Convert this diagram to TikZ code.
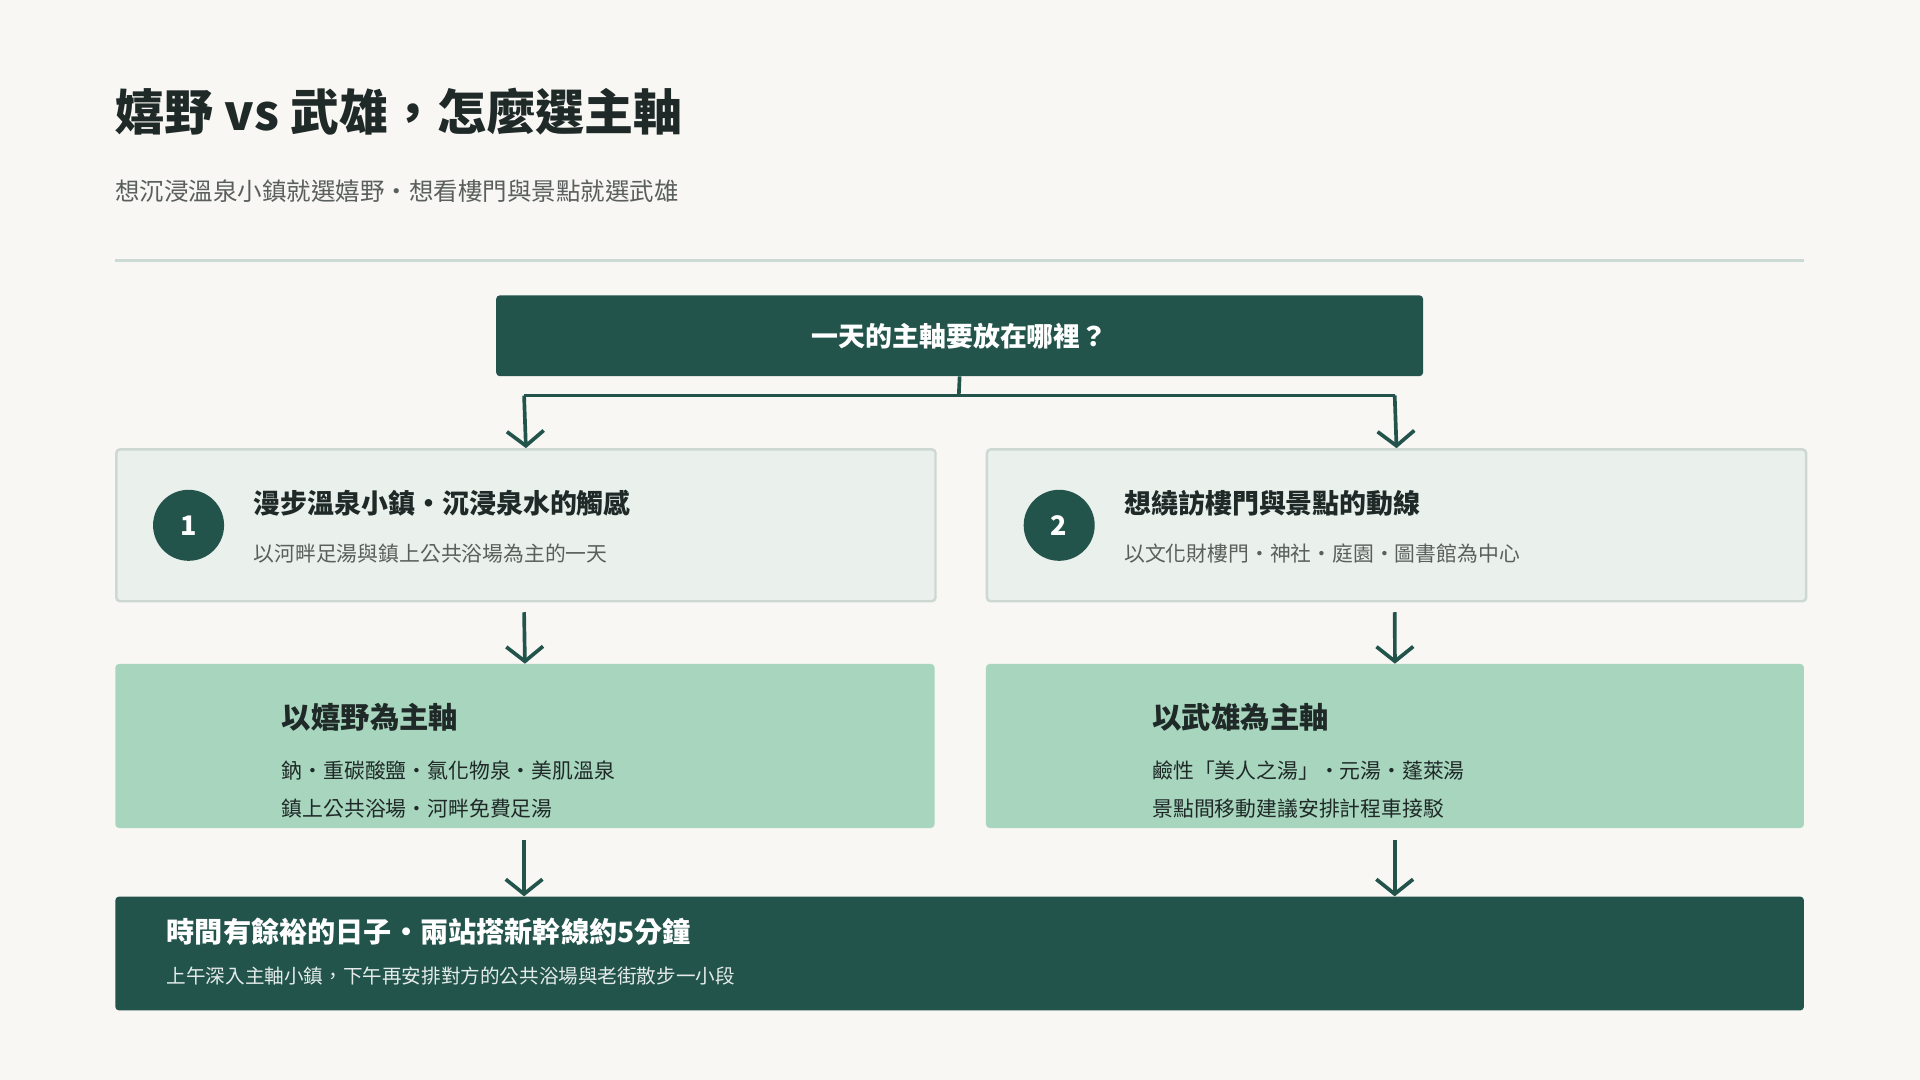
\documentclass[tikz,border=0pt]{standalone}
\usepackage{fontspec}
\setmainfont{Noto Sans CJK TC}
\usetikzlibrary{arrows.meta}
\definecolor{bg}{HTML}{F8F7F3}
\definecolor{dk}{HTML}{22544C}
\definecolor{ink}{HTML}{1F2A28}
\definecolor{gr}{HTML}{5A5F5D}
\definecolor{pale}{HTML}{EAF0EC}
\definecolor{paleb}{HTML}{CDD8D2}
\definecolor{mint}{HTML}{A8D5BE}
\definecolor{rule}{HTML}{CBDAD2}
\tikzset{
 arr/.style={draw=dk,line width=3pt,-{Straight Barb[length=12pt,width=30pt,line width=3pt]}},
 box/.style={anchor=north west,inner sep=0pt,rounded corners=3pt},
 txt/.style={anchor=west,inner sep=0pt},
}
\begin{document}
\begin{tikzpicture}[x=1pt,y=-1pt]
\fill[bg] (0,0) rectangle (1568,882);
\useasboundingbox (0,0) rectangle (1568,882);
\node[txt,font=\bfseries\fontsize{40}{44}\selectfont,text=ink] (title) at (94,91) {嬉野 vs 武雄，怎麼選主軸};
\node[txt,font=\fontsize{20}{24}\selectfont,text=gr] (sub) at (94,156) {想沉浸溫泉小鎮就選嬉野·想看樓門與景點就選武雄};
\draw[rule,line width=2.5pt] (94,213) -- (1473,213);
\node[box,fill=dk,minimum width=757pt,minimum height=66pt] (q) at (405,241) {};
\node[font=\bfseries\fontsize{22}{26}\selectfont,text=white] (qt) at (q.center) {一天的主軸要放在哪裡？};
\coordinate (j) at (783,323);
\coordinate (jl) at (428,323);
\coordinate (jr) at (1139,323);
\draw[dk,line width=3pt] (q.south) -- (j);
\draw[dk,line width=3pt] (jl) -- (jr);
% option boxes
\node[box,fill=pale,draw=paleb,line width=2pt,minimum width=669pt,minimum height=124pt] (o1) at (94,366) {};
\node[box,fill=pale,draw=paleb,line width=2pt,minimum width=669pt,minimum height=124pt] (o2) at (805,366) {};
\draw[arr] (jl) -- (o1.north);
\draw[arr] (jr) -- (o2.north);
\node[circle,fill=dk,minimum size=58pt,inner sep=0pt,text=white,font=\bfseries\fontsize{22}{24}\selectfont] (c1) at (154,429) {1};
\node[circle,fill=dk,minimum size=58pt,inner sep=0pt,text=white,font=\bfseries\fontsize{22}{24}\selectfont] (c2) at (865,429) {2};
\node[txt,font=\bfseries\fontsize{22}{26}\selectfont,text=ink] (o1t) at (207,411) {漫步溫泉小鎮·沉浸泉水的觸感};
\node[txt,font=\fontsize{17}{20}\selectfont,text=gr] (o1s) at (207,452) {以河畔足湯與鎮上公共浴場為主的一天};
\node[txt,font=\bfseries\fontsize{22}{26}\selectfont,text=ink] (o2t) at (918,411) {想繞訪樓門與景點的動線};
\node[txt,font=\fontsize{17}{20}\selectfont,text=gr] (o2s) at (918,452) {以文化財樓門·神社·庭園·圖書館為中心};
% result boxes
\node[box,fill=mint,minimum width=669pt,minimum height=134pt] (r1) at (94,542) {};
\node[box,fill=mint,minimum width=668pt,minimum height=134pt] (r2) at (805,542) {};
\coordinate (a1) at (428,500); \coordinate (a2) at (1139,500);
\draw[arr] (a1) -- (r1.north);
\draw[arr] (a2) -- (r2.north);
\node[txt,font=\bfseries\fontsize{24}{28}\selectfont,text=ink] (r1t) at (230,586) {以嬉野為主軸};
\node[txt,font=\fontsize{17}{20}\selectfont,text=ink] (r1a) at (230,629) {鈉·重碳酸鹽·氯化物泉·美肌溫泉};
\node[txt,font=\fontsize{17}{20}\selectfont,text=ink] (r1b) at (230,660) {鎮上公共浴場·河畔免費足湯};
\node[txt,font=\bfseries\fontsize{24}{28}\selectfont,text=ink] (r2t) at (941,586) {以武雄為主軸};
\node[txt,font=\fontsize{17}{20}\selectfont,text=ink] (r2a) at (941,629) {鹼性「美人之湯」·元湯·蓬萊湯};
\node[txt,font=\fontsize{17}{20}\selectfont,text=ink] (r2b) at (941,660) {景點間移動建議安排計程車接駁};
% bottom
\node[box,fill=dk,minimum width=1379pt,minimum height=93pt] (b) at (94,732) {};
\coordinate (b1) at (428,686); \coordinate (b2) at (1139,686);
\coordinate (e1) at (428,732); \coordinate (e2) at (1139,732);
\draw[arr] (b1) -- (e1);
\draw[arr] (b2) -- (e2);
\node[txt,font=\bfseries\fontsize{23}{27}\selectfont,text=white] (bt) at (136,761) {時間有餘裕的日子·兩站搭新幹線約5分鐘};
\node[txt,font=\fontsize{16}{20}\selectfont,text=white!88!dk] (bs) at (136,797) {上午深入主軸小鎮，下午再安排對方的公共浴場與老街散步一小段};
\end{tikzpicture}
\end{document}
